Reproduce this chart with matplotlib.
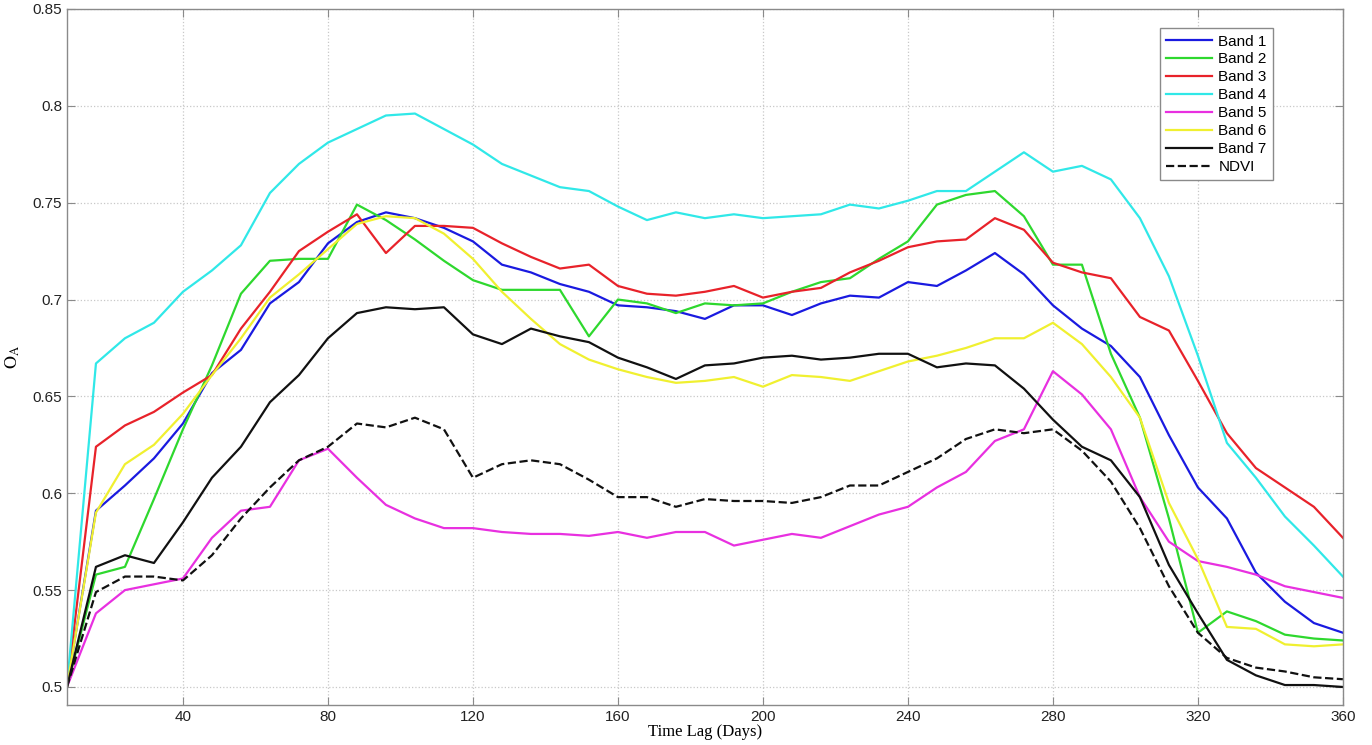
import matplotlib
matplotlib.use("Agg")
import matplotlib.pyplot as plt
from matplotlib.ticker import FuncFormatter

days = [8, 16, 24, 32, 40, 48, 56, 64, 72, 80,
        88, 96, 104, 112, 120, 128, 136, 144, 152, 160,
        168, 176, 184, 192, 200, 208, 216, 224, 232, 240,
        248, 256, 264, 272, 280, 288, 296, 304, 312, 320,
        328, 336, 344, 352, 360]

band1 = [0.5, 0.591, 0.604, 0.618, 0.636, 0.662, 0.674, 0.698, 0.709, 0.729,
         0.740, 0.745, 0.742, 0.737, 0.730, 0.718, 0.714, 0.708, 0.704, 0.697,
         0.696, 0.694, 0.690, 0.697, 0.697, 0.692, 0.698, 0.702, 0.701, 0.709,
         0.707, 0.715, 0.724, 0.713, 0.697, 0.685, 0.676, 0.660, 0.630, 0.603,
         0.587, 0.559, 0.544, 0.533, 0.528]
band2 = [0.5, 0.558, 0.562, 0.597, 0.633, 0.666, 0.703, 0.720, 0.721, 0.721,
         0.749, 0.741, 0.731, 0.720, 0.710, 0.705, 0.705, 0.705, 0.681, 0.700,
         0.698, 0.693, 0.698, 0.697, 0.698, 0.704, 0.709, 0.711, 0.721, 0.730,
         0.749, 0.754, 0.756, 0.743, 0.718, 0.718, 0.672, 0.639, 0.587, 0.528,
         0.539, 0.534, 0.527, 0.525, 0.524]
band3 = [0.5, 0.624, 0.635, 0.642, 0.652, 0.661, 0.685, 0.704, 0.725, 0.735,
         0.744, 0.724, 0.738, 0.738, 0.737, 0.729, 0.722, 0.716, 0.718, 0.707,
         0.703, 0.702, 0.704, 0.707, 0.701, 0.704, 0.706, 0.714, 0.720, 0.727,
         0.730, 0.731, 0.742, 0.736, 0.719, 0.714, 0.711, 0.691, 0.684, 0.658,
         0.631, 0.613, 0.603, 0.593, 0.577]
band4 = [0.5, 0.667, 0.680, 0.688, 0.704, 0.715, 0.728, 0.755, 0.770, 0.781,
         0.788, 0.795, 0.796, 0.788, 0.780, 0.770, 0.764, 0.758, 0.756, 0.748,
         0.741, 0.745, 0.742, 0.744, 0.742, 0.743, 0.744, 0.749, 0.747, 0.751,
         0.756, 0.756, 0.766, 0.776, 0.766, 0.769, 0.762, 0.742, 0.712, 0.671,
         0.626, 0.608, 0.588, 0.573, 0.557]
band5 = [0.5, 0.538, 0.550, 0.553, 0.556, 0.577, 0.591, 0.593, 0.617, 0.623,
         0.608, 0.594, 0.587, 0.582, 0.582, 0.580, 0.579, 0.579, 0.578, 0.580,
         0.577, 0.580, 0.580, 0.573, 0.576, 0.579, 0.577, 0.583, 0.589, 0.593,
         0.603, 0.611, 0.627, 0.633, 0.663, 0.651, 0.633, 0.598, 0.575, 0.565,
         0.562, 0.558, 0.552, 0.549, 0.546]
band6 = [0.5, 0.590, 0.615, 0.625, 0.641, 0.661, 0.680, 0.701, 0.713, 0.726,
         0.739, 0.743, 0.742, 0.734, 0.721, 0.704, 0.690, 0.677, 0.669, 0.664,
         0.660, 0.657, 0.658, 0.660, 0.655, 0.661, 0.660, 0.658, 0.663, 0.668,
         0.671, 0.675, 0.680, 0.680, 0.688, 0.677, 0.660, 0.639, 0.595, 0.566,
         0.531, 0.530, 0.522, 0.521, 0.522]
band7 = [0.5, 0.562, 0.568, 0.564, 0.585, 0.608, 0.624, 0.647, 0.661, 0.680,
         0.693, 0.696, 0.695, 0.696, 0.682, 0.677, 0.685, 0.681, 0.678, 0.670,
         0.665, 0.659, 0.666, 0.667, 0.670, 0.671, 0.669, 0.670, 0.672, 0.672,
         0.665, 0.667, 0.666, 0.654, 0.638, 0.624, 0.617, 0.598, 0.563, 0.538,
         0.514, 0.506, 0.501, 0.501, 0.500]
ndvi = [0.5, 0.549, 0.557, 0.557, 0.555, 0.568, 0.587, 0.603, 0.617, 0.624,
        0.636, 0.634, 0.639, 0.633, 0.608, 0.615, 0.617, 0.615, 0.607, 0.598,
        0.598, 0.593, 0.597, 0.596, 0.596, 0.595, 0.598, 0.604, 0.604, 0.611,
        0.618, 0.628, 0.633, 0.631, 0.633, 0.622, 0.606, 0.582, 0.552, 0.528,
        0.515, 0.510, 0.508, 0.505, 0.504]

labels = ["Band 1", "Band 2", "Band 3", "Band 4", "Band 5", "Band 6", "Band 7", "NDVI"]
colors = ["#1a1ae0", "#2ed82e", "#e8222a", "#30e8e8", "#e830e0", "#f0f030", "#111111", "#111111"]
styles = ["-", "-", "-", "-", "-", "-", "-", "--"]
series = [band1, band2, band3, band4, band5, band6, band7, ndvi]

plt.rcParams['font.family'] = ['Liberation Sans', 'DejaVu Sans']
plt.rcParams['mathtext.fontset'] = 'stix'

fig = plt.figure(figsize=(13.72, 7.45), dpi=100)
ax = fig.add_axes([0.0488, 0.0537, 0.930, 0.9343])

for vals, lab, col, ls in zip(series, labels, colors, styles):
    ax.plot(days, vals, ls, color=col, linewidth=1.6, label=lab)

ax.set_xlim(8, 360)
ax.set_ylim(0.4907, 0.85)
ax.set_xticks([40, 80, 120, 160, 200, 240, 280, 320, 360])
ax.set_yticks([0.5, 0.55, 0.6, 0.65, 0.7, 0.75, 0.8, 0.85])
ax.yaxis.set_major_formatter(FuncFormatter(lambda v, p: "%g" % round(v, 2)))

ax.grid(True, linestyle=":", color="#c8c8c8", linewidth=0.9)
ax.tick_params(direction="in", length=6, color="#8a8a8a", labelsize=11,
               top=True, right=True, labelcolor="#222222")
for sp in ax.spines.values():
    sp.set_color("#8a8a8a")
    sp.set_linewidth(1.0)

ax.set_xlabel("Time Lag (Days)", family="Liberation Serif", fontsize=12, labelpad=0)
ax.set_ylabel(r"$\mathrm{O}_{\mathrm{A}}$", fontsize=13)
ax.yaxis.set_label_coords(-0.035, 0.5)

leg = ax.legend(loc="upper right", bbox_to_anchor=(0.951, 0.983), fontsize=11,
                handlelength=3.0, labelspacing=0.26, fancybox=False,
                framealpha=1, edgecolor="#8a8a8a", borderpad=0.4, handletextpad=0.4)
leg.get_frame().set_linewidth(1.0)

fig.savefig("out.png", dpi=100)
